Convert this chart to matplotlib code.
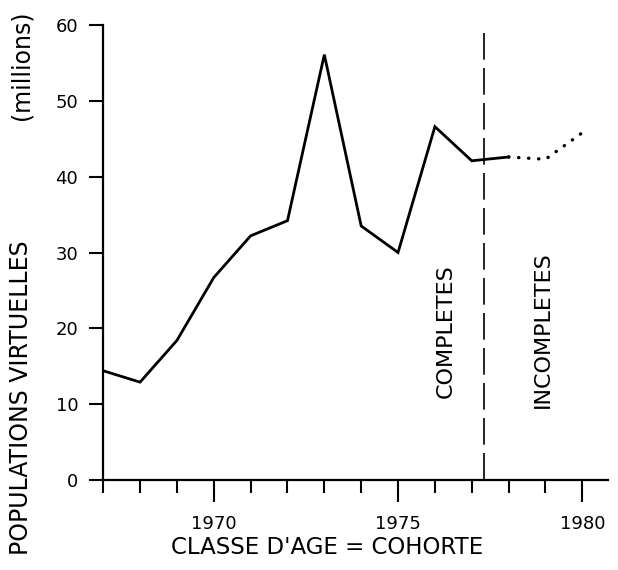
import matplotlib
matplotlib.use("Agg")
import matplotlib.pyplot as plt

plt.rcParams['font.family'] = ['DejaVu Sans']

# cohortes completes (trait plein)
annees = [1967, 1968, 1969, 1970, 1971, 1972, 1973, 1974, 1975, 1976, 1977, 1978]
pop = [14.4, 12.9, 18.4, 26.7, 32.2, 34.2, 56.1, 33.5, 30.0, 46.6, 42.1, 42.6]

# cohortes incompletes (pointille)
annees_inc = [1978, 1979, 1980]
pop_inc = [42.6, 42.3, 45.8]

limite = 1977.33

fig = plt.figure(figsize=(6.18, 5.7), dpi=100)
ax = fig.add_axes([0.167, 0.158, 0.817, 0.798])

ax.plot(annees, pop, color='black', lw=2.0, solid_joinstyle='miter')
ax.plot(annees_inc, pop_inc, color='black', lw=2.4,
        linestyle=(0, (0.1, 2.9)), dash_capstyle='round')
ax.plot([limite, limite], [59, 0], color='black', lw=1.2, linestyle=(0, (16, 5)))

ax.text(1976.3, 19.6, 'COMPLETES', rotation=90, ha='center', va='center', fontsize=16)
ax.text(1978.93, 19.8, 'INCOMPLETES', rotation=90, ha='center', va='center', fontsize=16)

ax.set_xlim(1967, 1980.7)
ax.set_ylim(0, 60)
ax.spines['top'].set_visible(False)
ax.spines['right'].set_visible(False)
for s in ['left', 'bottom']:
    ax.spines[s].set_linewidth(1.6)

ax.set_xticks([1970, 1975, 1980])
ax.set_xticks(range(1967, 1981), minor=True)
ax.set_yticks(range(0, 61, 10))
ax.tick_params(axis='x', which='major', direction='out', length=16, width=1.5,
               labelsize=13, pad=9)
ax.tick_params(axis='x', which='minor', direction='out', length=9.5, width=1.5)
ax.tick_params(axis='y', direction='out', length=10, width=1.5, labelsize=13, pad=8)

fig.text(0.529, 0.039, "CLASSE D'AGE = COHORTE", ha='center', va='center', fontsize=16.5)
fig.text(0.034, 0.302, 'POPULATIONS VIRTUELLES', rotation=90, ha='center', va='center',
         fontsize=17)
fig.text(0.034, 0.886, '(millions)', rotation=90, ha='center', va='center', fontsize=17)

fig.savefig('out.png', dpi=100)
